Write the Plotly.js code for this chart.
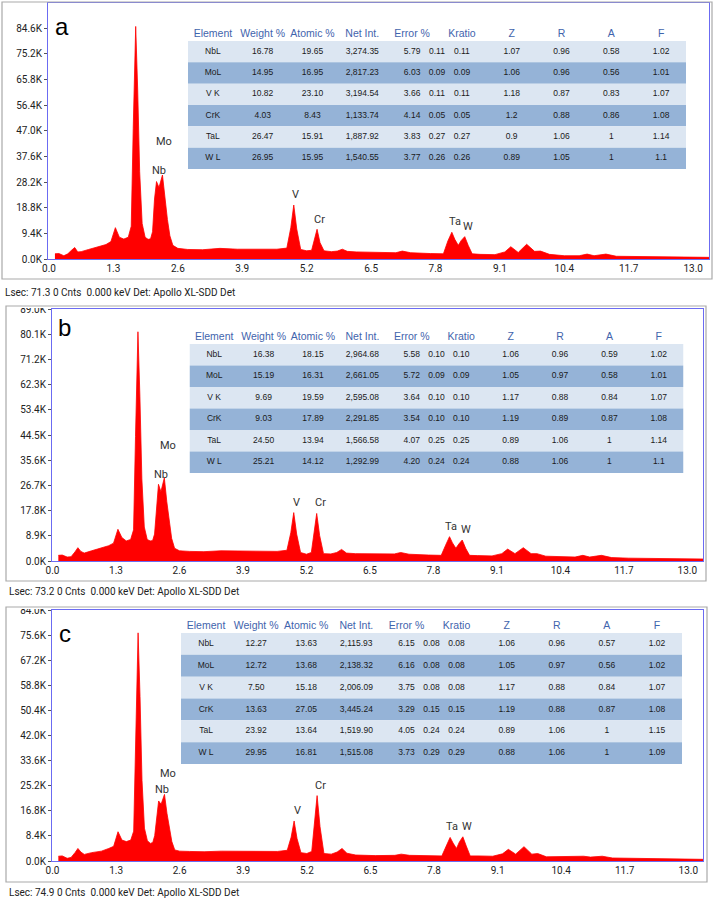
<!DOCTYPE html>
<html>
<head>
<meta charset="utf-8">
<script src="https://cdn.plot.ly/plotly-3.0.1.min.js"></script>
<style>
  html, body { margin: 0; padding: 0; background: #fff; }
  #chart { width: 714px; height: 899px; }
</style>
</head>
<body>
<div id="chart"></div>
<script>
// energy axis shared by the three spectra (keV)
var energy = [0.12, 0.2, 0.3, 0.38, 0.46, 0.52, 0.58, 0.65, 0.8, 1.0, 1.15, 1.25, 1.34, 1.42, 1.51,
  1.6, 1.66, 1.70, 1.75, 1.79, 1.83, 1.88, 1.94, 2.0,
  2.05, 2.09, 2.13, 2.17, 2.22, 2.29, 2.34, 2.39, 2.44, 2.5, 2.6,
  2.8, 3.1, 3.45, 3.8, 4.2, 4.6,
  4.8, 4.88, 4.94, 5.0, 5.08,
  5.2, 5.3, 5.36, 5.41, 5.47, 5.55,
  5.7, 5.82, 5.92, 6.02, 6.2, 6.6, 7.0, 7.13, 7.3, 7.7, 7.96,
  8.05, 8.13, 8.19, 8.26, 8.32, 8.39, 8.46, 8.54,
  8.7, 9.0, 9.2, 9.32, 9.47, 9.64, 9.8, 9.92, 10.1, 10.4, 10.7, 10.86, 11.0, 11.24, 11.45, 11.8, 12.3, 12.8, 13.33];

// counts in thousands
var countsA = [1.9, 2.0, 1.2, 1.9, 3.3, 4.2, 2.6, 2.7, 3.5, 4.6, 5.3, 6.4, 11.5, 8.0, 7.3,
  8.0, 12, 48, 85.3, 62, 32, 13, 8.0, 7.2,
  7.4, 10, 22, 28.4, 26.2, 30.8, 21.5, 14.5, 8.5, 5.0, 3.9,
  3.5, 3.4, 3.9, 3.6, 3.6, 3.6,
  4.0, 11.5, 19.8, 11.0, 3.5,
  3.0, 3.2, 7.5, 10.9, 6.0, 3.0,
  2.7, 2.9, 3.6, 2.8, 2.6, 2.5, 2.3, 2.9, 2.3, 2.0, 1.9,
  6.6, 9.8, 7.2, 5.0, 6.8, 8.2, 5.0, 1.9,
  1.7, 1.6, 2.6, 4.5, 2.4, 5.4, 2.8, 2.9, 1.7, 1.2, 1.2, 1.8, 1.2, 1.8, 1.0, 0.9, 0.8, 0.7, 0.6];
var countsB = [2.0, 2.1, 1.4, 1.5, 3.2, 4.7, 3.4, 2.8, 3.6, 4.5, 5.4, 6.3, 11.2, 8.3, 7.1,
  7.6, 11, 44, 81, 58, 29, 12, 7.6, 7.1,
  7.2, 9.5, 20, 27.1, 24.5, 29.4, 21, 13.5, 8.0, 4.5, 3.6,
  3.4, 3.3, 3.6, 3.5, 3.5, 3.4,
  3.8, 10, 17.1, 9.5, 3.0,
  2.4, 3.0, 10.5, 16.8, 9.0, 2.6,
  2.5, 3.0, 4.1, 2.8, 2.6, 2.5, 2.5, 3.0, 2.4, 2.1, 2.0,
  5.6, 8.6, 6.4, 4.5, 6.0, 7.4, 4.5, 2.0,
  1.9, 1.8, 2.6, 4.2, 2.6, 4.7, 2.6, 2.6, 1.7, 1.5, 1.4, 2.0, 1.4, 2.0, 1.2, 1.0, 0.9, 0.8, 0.7];
var countsC = [1.6, 1.7, 0.9, 1.2, 2.8, 4.2, 3.0, 2.2, 2.8, 3.3, 4.2, 4.9, 9.8, 7.0, 6.5,
  7.0, 10, 41, 76.4, 55, 27, 11, 6.8, 5.9,
  6.2, 8.5, 15, 20.1, 19.0, 22.3, 16, 10.5, 6.5, 3.7, 3.3,
  3.2, 3.1, 3.3, 3.3, 3.2, 3.2,
  3.6, 8.0, 13.4, 7.5, 2.8,
  2.5, 3.2, 13, 21.9, 11.5, 2.5,
  2.3, 3.0, 4.2, 2.6, 2.0, 1.8, 1.9, 2.3, 1.9, 1.8, 1.7,
  5.0, 7.9, 6.0, 4.2, 6.4, 8.1, 5.0, 1.7,
  1.7, 1.6, 2.4, 3.9, 2.3, 4.8, 2.3, 2.5, 1.4, 1.5, 1.4, 1.6, 1.3, 1.6, 1.0, 0.9, 0.7, 0.6, 0.55];

var peakNames = ['Mo', 'Nb', 'V', 'Cr', 'Ta', 'W'];

// quant tables
var headers = ['Element', 'Weight %', 'Atomic %', 'Net Int.', 'Error %', 'Kratio', 'Z', 'R', 'A', 'F'];
var elements = ['NbL', 'MoL', 'V K', 'CrK', 'TaL', 'W L'];

var weightA = ['16.78', '14.95', '10.82', '4.03', '26.47', '26.95'];
var atomicA = ['19.65', '16.95', '23.10', '8.43', '15.91', '15.95'];
var netA = ['3,274.35', '2,817.23', '3,194.54', '1,133.74', '1,887.92', '1,540.55'];
var errorA = ['5.79', '6.03', '3.66', '4.14', '3.83', '3.77'];
var errAbsA = ['0.11', '0.09', '0.11', '0.05', '0.27', '0.26'];
var kratioA = ['0.11', '0.09', '0.11', '0.05', '0.27', '0.26'];
var zA = ['1.07', '1.06', '1.18', '1.2', '0.9', '0.89'];
var rA = ['0.96', '0.96', '0.87', '0.88', '1.06', '1.05'];
var aA = ['0.58', '0.56', '0.83', '0.86', '1', '1'];
var fA = ['1.02', '1.01', '1.07', '1.08', '1.14', '1.1'];

var weightB = ['16.38', '15.19', '9.69', '9.03', '24.50', '25.21'];
var atomicB = ['18.15', '16.31', '19.59', '17.89', '13.94', '14.12'];
var netB = ['2,964.68', '2,661.05', '2,595.08', '2,291.85', '1,566.58', '1,292.99'];
var errorB = ['5.58', '5.72', '3.64', '3.54', '4.07', '4.20'];
var errAbsB = ['0.10', '0.09', '0.10', '0.10', '0.25', '0.24'];
var kratioB = ['0.10', '0.09', '0.10', '0.10', '0.25', '0.24'];
var zB = ['1.06', '1.05', '1.17', '1.19', '0.89', '0.88'];
var rB = ['0.96', '0.97', '0.88', '0.89', '1.06', '1.06'];
var aB = ['0.59', '0.58', '0.84', '0.87', '1', '1'];
var fB = ['1.02', '1.01', '1.07', '1.08', '1.14', '1.1'];

var weightC = ['12.27', '12.72', '7.50', '13.63', '23.92', '29.95'];
var atomicC = ['13.63', '13.68', '15.18', '27.05', '13.64', '16.81'];
var netC = ['2,115.93', '2,138.32', '2,006.09', '3,445.24', '1,519.90', '1,515.08'];
var errorC = ['6.15', '6.16', '3.75', '3.29', '4.05', '3.73'];
var errAbsC = ['0.08', '0.08', '0.08', '0.15', '0.24', '0.29'];
var kratioC = ['0.08', '0.08', '0.08', '0.15', '0.24', '0.29'];
var zC = ['1.06', '1.05', '1.17', '1.19', '0.89', '0.88'];
var rC = ['0.96', '0.97', '0.88', '0.88', '1.06', '1.06'];
var aC = ['0.57', '0.56', '0.84', '0.87', '1', '1'];
var fC = ['1.02', '1.02', '1.07', '1.08', '1.15', '1.09'];

// --- layout constants (pixels in the 714x899 page) ---
var W = 714, H = 899;
function fx(p) { return p / W; }
function fy(p) { return 1 - p / H; }

var colSlot = [0.5, 1.5, 2.5, 3.5, 4.5, 5.0, 5.5, 6.5, 7.5, 8.5, 9.5];
var headSlot = [0.5, 1.5, 2.5, 3.5, 4.5, 5.5, 6.5, 7.5, 8.5, 9.5];
var headRow = -0.8, tableTop = -1.1;

var panels = [
  { letter: 'a', counts: countsA, dtick: 9.4, ymax: 93.9, xr: [-0.02, 13.32],
    box: [2, 2, 712, 279], plot: [48, 3, 709, 259], table: [188, 41, 686, 169],
    cols: [elements, weightA, atomicA, netA, errorA, errAbsA, kratioA, zA, rA, aA, fA],
    labX: [2.32, 2.21, 4.98, 5.45, 8.20, 8.45], labY: [43.1, 32.4, 23.6, 14.5, 13.6, 12.0],
    letterXY: [62, 26.6], caption: 'Lsec: 71.3 0 Cnts\u00a0 0.000 keV Det: Apollo XL-SDD Det', capXY: [3, 292] },
  { letter: 'b', counts: countsB, dtick: 8.9, ymax: 89.05, xr: [-0.01, 13.32],
    box: [6, 306, 706, 581], plot: [52, 309, 703, 561], table: [189.5, 344, 683.5, 473],
    cols: [elements, weightB, atomicB, netB, errorB, errAbsB, kratioB, zB, rB, aB, fB],
    labX: [2.36, 2.23, 5.00, 5.48, 8.17, 8.46], labY: [40.8, 30.5, 20.7, 20.7, 12.3, 11.1],
    letterXY: [64, 327.3], caption: 'Lsec: 73.2 0 Cnts\u00a0 0.000 keV Det: Apollo XL-SDD Det', capXY: [7, 591.5] },
  { letter: 'c', counts: countsC, dtick: 8.4, ymax: 84.05, xr: [-0.01, 13.3],
    box: [6, 607, 707, 882], plot: [52, 610, 703, 861], table: [181, 633, 682, 764],
    cols: [elements, weightC, atomicC, netC, errorC, errAbsC, kratioC, zC, rC, aC, fC],
    labX: [2.36, 2.24, 5.00, 5.475, 8.16, 8.47], labY: [29.3, 23.9, 16.8, 25.3, 11.6, 11.6],
    letterXY: [65, 633.3], caption: 'Lsec: 74.9 0 Cnts\u00a0 0.000 keV Det: Apollo XL-SDD Det', capXY: [7, 892.5] }
];

var tickFont = { family: 'Roboto, Open Sans, sans-serif', size: 10, color: '#222' };
var data = [];
var layout = {
  width: W, height: H,
  margin: { l: 0, r: 0, t: 0, b: 0 },
  paper_bgcolor: '#fff',
  plot_bgcolor: 'rgba(0,0,0,0)',
  showlegend: false,
  shapes: [],
  annotations: []
};

panels.forEach(function(p, i) {
  var n = i + 1, t = i + 4;
  var xa = n === 1 ? 'x' : 'x' + n, ya = n === 1 ? 'y' : 'y' + n;
  var xk = n === 1 ? 'xaxis' : 'xaxis' + n, yk = n === 1 ? 'yaxis' : 'yaxis' + n;

  // spectrum
  data.push({
    type: 'scatter', mode: 'lines', x: energy, y: p.counts,
    xaxis: xa, yaxis: ya, fill: 'tozeroy', fillcolor: '#ff0000',
    line: { color: '#ff0000', width: 0.8 }, hoverinfo: 'skip'
  });

  layout[xk] = {
    domain: [fx(p.plot[0]), fx(p.plot[2])], range: p.xr, anchor: ya,
    tick0: 0, dtick: 1.3, tickformat: '.1f', ticks: '', tickfont: tickFont,
    showgrid: false, zeroline: false, showline: true, mirror: true,
    linecolor: '#6b6bf2', linewidth: 1, fixedrange: true
  };
  layout[yk] = {
    domain: [fy(p.plot[3]), fy(p.plot[1])], range: [0, p.ymax], anchor: xa,
    tick0: 0, dtick: p.dtick, tickformat: '.1f', ticksuffix: 'K',
    ticks: 'outside', ticklen: 3, tickcolor: '#555', tickfont: tickFont,
    showgrid: false, zeroline: false, showline: true, mirror: true,
    linecolor: '#6b6bf2', linewidth: 1, fixedrange: true
  };

  // peak labels
  peakNames.forEach(function(name, j) {
    layout.annotations.push({
      xref: xa, yref: ya, x: p.labX[j], y: p.labY[j], text: name, showarrow: false,
      xanchor: 'center', yanchor: 'middle',
      font: { family: 'Roboto, Open Sans, sans-serif', size: 11, color: '#333' }
    });
  });

  // panel letter and status caption
  layout.annotations.push({
    xref: 'paper', yref: 'paper', x: fx(p.letterXY[0]), y: fy(p.letterXY[1]),
    text: p.letter, showarrow: false, xanchor: 'center', yanchor: 'middle',
    font: { family: 'Liberation Sans, Arial, sans-serif', size: 24, color: '#000' }
  });
  layout.annotations.push({
    xref: 'paper', yref: 'paper', x: fx(p.capXY[0]), y: fy(p.capXY[1]),
    text: p.caption, showarrow: false, xanchor: 'left', yanchor: 'middle',
    font: { family: 'Roboto, Open Sans, sans-serif', size: 10, color: '#222' }
  });

  // hide the top part of the clipped top tick label
  layout.shapes.push({
    type: 'rect', xref: 'paper', yref: 'paper', layer: 'above',
    x0: fx(p.box[0] + 1), x1: fx(p.plot[0] - 1), y0: fy(p.plot[1] - 1), y1: fy(p.plot[1] - 14),
    fillcolor: '#fff', line: { width: 0 }
  });
  // outer gray frame
  layout.shapes.push({
    type: 'rect', xref: 'paper', yref: 'paper', layer: 'above',
    x0: fx(p.box[0]), x1: fx(p.box[2]), y0: fy(p.box[3]), y1: fy(p.box[1]),
    line: { color: '#a9a9a9', width: 1.2 }
  });

  // quant table on its own hidden axes; header row sits inside the range
  var rowH = (p.table[3] - p.table[1]) / 6;
  layout['xaxis' + t] = {
    domain: [fx(p.table[0]), fx(p.table[2])], range: [0, 10], visible: false,
    anchor: 'y' + t, fixedrange: true
  };
  layout['yaxis' + t] = {
    domain: [fy(p.table[3]), fy(p.table[1] + (tableTop + 0.5) * rowH)], range: [5.5, tableTop],
    visible: false, anchor: 'x' + t, fixedrange: true
  };
  elements.forEach(function(el, r) {
    layout.shapes.push({
      type: 'rect', xref: 'x' + t, yref: 'y' + t, layer: 'below',
      x0: 0, x1: 10, y0: r - 0.5, y1: r + 0.5,
      fillcolor: r % 2 ? '#95b3d7' : '#dce6f2', line: { width: 0 }
    });
  });

  var tx = [], ty = [], tt = [];
  p.cols.forEach(function(col, c) {
    col.forEach(function(v, r) { tx.push(colSlot[c]); ty.push(r); tt.push(v); });
  });
  data.push({
    type: 'scatter', mode: 'text', x: tx, y: ty, text: tt,
    xaxis: 'x' + t, yaxis: 'y' + t, cliponaxis: false, hoverinfo: 'skip',
    textposition: 'middle center',
    textfont: { family: 'Liberation Sans, Arial, sans-serif', size: 8.5, color: '#1a1a1a' }
  });
  data.push({
    type: 'scatter', mode: 'text', x: headSlot, y: headers.map(function() { return headRow; }),
    text: headers, xaxis: 'x' + t, yaxis: 'y' + t, cliponaxis: false, hoverinfo: 'skip',
    textposition: 'middle center',
    textfont: { family: 'Liberation Sans, Arial, sans-serif', size: 10.5, color: '#3f64ad' }
  });
});

Plotly.newPlot('chart', data, layout, { displayModeBar: false, staticPlot: true });
</script>
</body>
</html>
